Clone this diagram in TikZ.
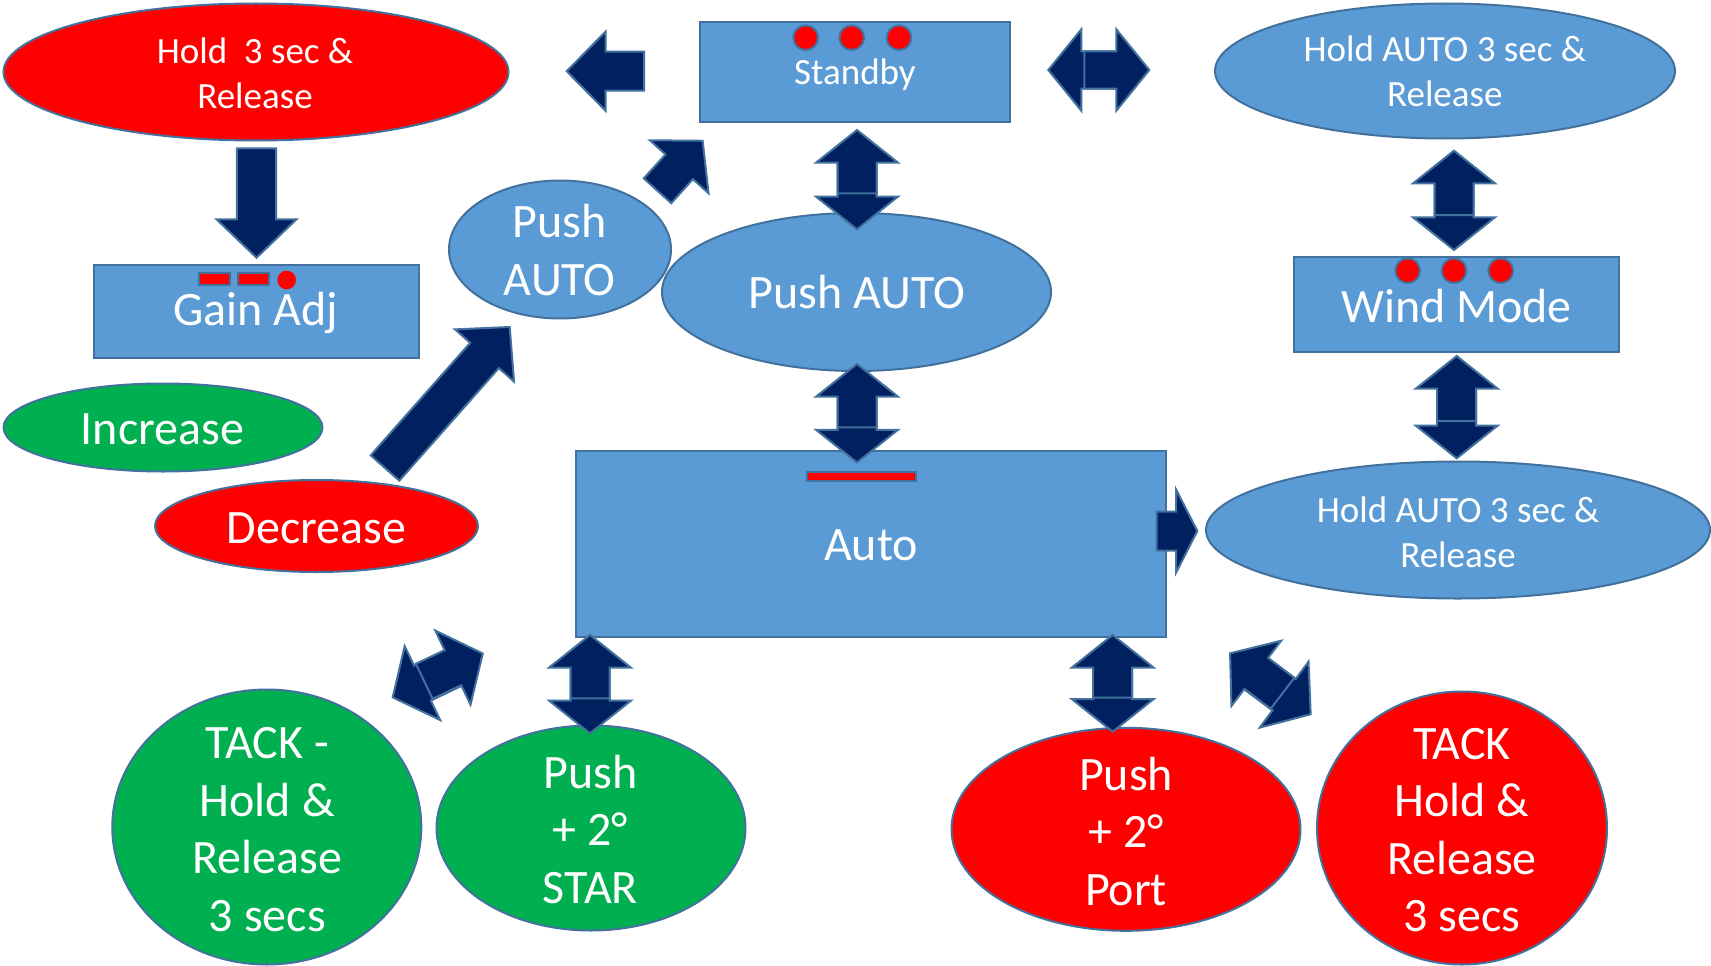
\documentclass[tikz,border=0pt]{standalone}
\usepackage{fontspec}
\setmainfont{Carlito}
\usetikzlibrary{shapes.geometric}
\definecolor{boxblue}{HTML}{5B9BD5}
\definecolor{edgeblue}{HTML}{41719C}
\definecolor{navyfill}{HTML}{002060}
\definecolor{pred}{HTML}{FF0000}
\definecolor{pgreen}{HTML}{00B050}
\tikzset{
  shapebase/.style={draw=edgeblue, line width=2pt, inner sep=0pt, outer sep=0pt},
  boxnode/.style={shapebase, rectangle, fill=boxblue},
  ellnode/.style={shapebase, ellipse},
  barrowstyle/.style={draw=edgeblue, fill=navyfill, line width=2pt, line join=miter},
  dotstyle/.style={draw=edgeblue, fill=pred, line width=2pt},
  txt/.style={text=white, align=center, inner sep=0pt},
  bigtext/.style={txt, font=\fontsize{48}{57.5}\selectfont},
  smalltext/.style={txt, font=\fontsize{37}{44.7}\selectfont},
}
% tail x, tail y, tip x, tip y, half shaft, half head, head length
\newcommand\blockarrow[7]{%
  \pgfmathsetmacro\baAng{atan2(-((#4)-(#2)),(#3)-(#1))}%
  \pgfmathsetmacro\baLen{veclen((#3)-(#1),(#4)-(#2))}%
  \pgfmathsetmacro\baNeck{\baLen-(#7)}%
  \begin{scope}[shift={(#1,#2)},rotate=\baAng]
    \draw[barrowstyle] (0,-#5) -- (\baNeck,-#5) -- (\baNeck,-#6) -- (\baLen,0)
      -- (\baNeck,#6) -- (\baNeck,#5) -- (0,#5) -- cycle;
  \end{scope}}
\begin{document}
\begin{tikzpicture}[x=1pt,y=-1pt]
\useasboundingbox (0,0) rectangle (1711,966);
\fill[white] (0,0) rectangle (1711,966);

% ---- shapes ----
\node[ellnode, fill=pred, minimum width=505pt, minimum height=137pt] (holdR) at (256,72) {};
\node[smalltext] (holdRt) at (255,73) {Hold\ \ 3 sec \&\\Release};

\node[boxnode, minimum width=325pt, minimum height=93pt] (gain) at (256.5,311) {};
\node[bigtext] (gaint) at (255.8,313) {Gain Adj};
\draw[dotstyle, fill=pred] (199.3,272.7) rectangle (230,285);
\draw[dotstyle, fill=pred] (237.7,272.7) rectangle (269,285);
\fill[pred] (286.7,280) circle (9.3);

\node[ellnode, fill=pgreen, minimum width=319pt, minimum height=88pt] (inc) at (163,427.5) {};
\node[bigtext] (inct) at (162.5,429) {Increase};

\node[ellnode, fill=pred, minimum width=323pt, minimum height=92pt] (dec) at (316.5,526) {};
\node[bigtext] (dect) at (316.5,528) {Decrease};

\node[ellnode, fill=boxblue, minimum width=222pt, minimum height=138pt] (pushS) at (560,249.5) {};
\node[bigtext] (pushSt) at (559.8,250) {Push\\AUTO};

\node[ellnode, fill=boxblue, minimum width=389pt, minimum height=158pt] (pushL) at (856.5,292) {};
\node[bigtext] (pushLt) at (856.6,292.4) {Push AUTO};

\node[boxnode, minimum width=310pt, minimum height=100pt] (standby) at (855,72) {};
\node[smalltext] (standbyt) at (855,75) {Standby};
\draw[dotstyle] (805.7,37.7) circle (12.3);
\draw[dotstyle] (851.7,37.7) circle (12.3);
\draw[dotstyle] (899,37.7) circle (12.3);

\node[boxnode, minimum width=590pt, minimum height=186pt] (auto) at (871.3,544) {};
\node[bigtext] (autot) at (871,545.6) {Auto};
\draw[dotstyle] (807,472) rectangle (915.5,481.3);

\node[ellnode, fill=boxblue, minimum width=504pt, minimum height=137pt] (holdL) at (1458,530) {};
\node[smalltext] (holdLt) at (1458,532) {Hold AUTO 3 sec \&\\Release};

\node[boxnode, minimum width=325pt, minimum height=95pt] (wind) at (1456.5,304) {};
\node[bigtext] (windt) at (1456.7,305.5) {Wind Mode};
\draw[dotstyle] (1407.7,270.7) circle (12.3);
\draw[dotstyle] (1454,270.7) circle (12.3);
\draw[dotstyle] (1500.7,270.7) circle (12.3);

\node[ellnode, fill=boxblue, minimum width=460pt, minimum height=135pt] (holdU) at (1445,71) {};
\node[smalltext] (holdUt) at (1444.8,71.5) {Hold AUTO 3 sec \&\\Release};

\node[ellnode, fill=pgreen, minimum width=309pt, minimum height=275pt] (tackG) at (266.8,827) {};
\node[bigtext] (tackGt) at (267.3,829.8) {TACK -\\Hold \&\\Release\\3 secs};

\node[ellnode, fill=pgreen, minimum width=309pt, minimum height=205pt] (star) at (591,828) {};
\node[bigtext] (start) at (590.3,829.3) {Push\\+ 2°\\STAR};

\node[ellnode, fill=pred, minimum width=349pt, minimum height=203pt] (port) at (1126,829.3) {};
\node[bigtext] (portt) at (1126,831.5) {Push\\+ 2°\\Port};

\node[ellnode, fill=pred, minimum width=290pt, minimum height=273pt] (tackR) at (1462,828) {};
\node[bigtext] (tackRt) at (1462,830) {TACK\\Hold \&\\Release\\3 secs};

% ---- block arrows ----
\blockarrow{644}{71.2}{566.7}{71.2}{19.5}{39.7}{39}
\blockarrow{256.5}{148.3}{256.5}{257.7}{19.7}{40}{38.4}
\blockarrow{385}{468}{509.7}{327}{19.1}{39.4}{38}
\blockarrow{657.5}{190.8}{702.7}{140.7}{18.5}{39.5}{35}
% Standby <-> Push AUTO
\blockarrow{857}{163}{857}{229.3}{19.5}{41}{32.7}
\blockarrow{857}{193.3}{857}{130}{19.5}{41}{32.7}
% Push AUTO <-> Auto
\blockarrow{857}{396.7}{857}{462.5}{19.5}{41}{32.7}
\blockarrow{857}{427.3}{857}{364}{19.5}{41}{32.7}
% Standby <-> Hold AUTO (top)
\blockarrow{1117}{70}{1048.3}{70}{18.7}{40.7}{33}
\blockarrow{1084.3}{70}{1149.3}{70}{18.7}{40.7}{33}
% Auto -> Hold AUTO
\blockarrow{1156.7}{531}{1197.3}{531}{19.5}{41.7}{21.3}
% Hold AUTO <-> Wind Mode
\blockarrow{1454}{183.3}{1454}{250}{19.5}{41}{32.7}
\blockarrow{1454}{215}{1454}{150.7}{19.5}{41}{32.7}
% Wind Mode <-> Hold AUTO
\blockarrow{1456.7}{390}{1456.7}{458.3}{19.5}{41}{32.7}
\blockarrow{1456.7}{421}{1456.7}{356}{19.5}{41}{32.7}
% Auto <-> STAR
\blockarrow{590}{666}{590}{733.3}{19.5}{41}{32.7}
\blockarrow{590}{698.3}{590}{635}{19.5}{41}{32.7}
% Auto <-> Port
\blockarrow{1112.7}{666}{1112.7}{731.7}{19.5}{41}{32.7}
\blockarrow{1112.7}{697.7}{1112.7}{635}{19.5}{41}{32.7}
% rotated pair left
\blockarrow{453.3}{668.3}{392.7}{697.4}{19.4}{41}{33}
\blockarrow{424.2}{681.3}{482.8}{653.5}{19.4}{41}{33}
% rotated pair right
\blockarrow{1255.8}{673.7}{1310.7}{714.3}{19.5}{41}{33}
\blockarrow{1282.5}{693.3}{1230}{653.3}{19.5}{41}{33}
\end{tikzpicture}
\end{document}
